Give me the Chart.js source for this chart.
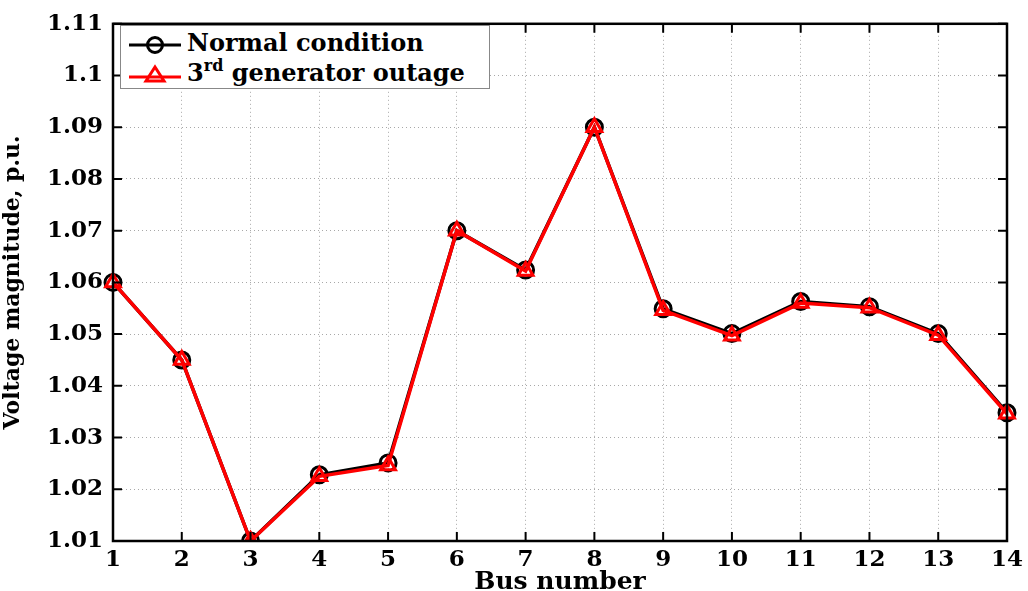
<!DOCTYPE html>
<html>
<head>
<meta charset="utf-8">
<script src="https://cdn.jsdelivr.net/npm/chart.js@4.4.1/dist/chart.umd.min.js"></script>
<style>
  body { margin: 0; background: #fff; }
  #wrap { position: relative; width: 1028px; height: 591px; }
  #legend {
    position: absolute; left: 120px; top: 25px; width: 370px; height: 64px;
    background: #fff; border: 1px solid #888; box-sizing: border-box;
    font-family: "DejaVu Serif", serif; font-weight: bold; font-size: 24px; color: #000;
  }
  #legend .row { position: absolute; left: 6px; height: 30px; line-height: 30px; white-space: nowrap; }
  #legend svg { vertical-align: middle; margin-right: 4px; }
  #legend sup { font-size: 16px; vertical-align: 10px; line-height: 0; }
</style>
</head>
<body>
<div id="wrap">
  <canvas id="chart" width="1028" height="591"></canvas>
  <div id="legend">
    <div class="row" style="top:2px">
      <svg width="56" height="24"><line x1="2" y1="12" x2="54" y2="12" stroke="#000" stroke-width="3"/><circle cx="28" cy="12" r="7.5" fill="none" stroke="#000" stroke-width="3"/></svg>Normal condition
    </div>
    <div class="row" style="top:32px">
      <svg width="56" height="24"><line x1="2" y1="14" x2="54" y2="14" stroke="#f00" stroke-width="3"/><polygon points="28,4 37,18 19,18" fill="none" stroke="#f00" stroke-width="3"/></svg>3<sup>rd</sup> generator outage
    </div>
  </div>
</div>
<script>
var buses = ['1','2','3','4','5','6','7','8','9','10','11','12','13','14'];
var normal = [1.060, 1.045, 1.010, 1.0228, 1.0251, 1.070, 1.0624, 1.090, 1.0549, 1.0501, 1.0563, 1.0553, 1.0501, 1.0348];
var outage = [1.060, 1.045, 1.010, 1.0225, 1.0246, 1.070, 1.0622, 1.090, 1.0546, 1.0497, 1.0560, 1.0551, 1.0498, 1.0346];
var yMin = 1.01, yMax = 1.11, yStep = 0.01;

var tickFont = { family: 'DejaVu Serif', weight: 'bold', size: 23 };

// frame around the plot with inward ticks, like matlab
var framePlugin = {
  id: 'frame',
  afterDraw: function(chart) {
    var ctx = chart.ctx, a = chart.chartArea;
    var xs = chart.scales.x, ys = chart.scales.y;
    ctx.save();
    ctx.strokeStyle = '#000';
    ctx.lineWidth = 2.5;
    ctx.strokeRect(a.left, a.top, a.right - a.left, a.bottom - a.top);
    ctx.lineWidth = 2;
    ctx.beginPath();
    for (var i = 0; i < buses.length; i++) {
      var px = xs.getPixelForValue(i);
      ctx.moveTo(px, a.bottom); ctx.lineTo(px, a.bottom - 9);
      ctx.moveTo(px, a.top); ctx.lineTo(px, a.top + 9);
    }
    ys.ticks.forEach(function(t) {
      var py = ys.getPixelForValue(t.value);
      ctx.moveTo(a.left, py); ctx.lineTo(a.left + 9, py);
      ctx.moveTo(a.right, py); ctx.lineTo(a.right - 9, py);
    });
    ctx.stroke();
    ctx.restore();
  }
};

new Chart(document.getElementById('chart').getContext('2d'), {
  type: 'line',
  data: {
    labels: buses,
    datasets: [{
      label: 'Normal condition',
      data: normal,
      borderColor: '#000',
      borderWidth: 3.5,
      pointStyle: 'circle',
      pointRadius: 8,
      pointBorderWidth: 3,
      pointBorderColor: '#000',
      pointBackgroundColor: 'rgba(0,0,0,0)',
      tension: 0,
      order: 1
    }, {
      label: '3rd generator outage',
      data: outage,
      borderColor: '#ff0000',
      borderWidth: 3.5,
      pointStyle: 'triangle',
      pointRadius: 8.5,
      pointBorderWidth: 3,
      pointBorderColor: '#ff0000',
      pointBackgroundColor: 'rgba(0,0,0,0)',
      tension: 0,
      order: 0
    }]
  },
  options: {
    responsive: false,
    animation: false,
    layout: { padding: { top: 19, right: 20, left: 0, bottom: 0 } },
    plugins: { legend: { display: false }, tooltip: { enabled: false } },
    scales: {
      x: {
        offset: false,
        grid: { color: '#a8a8a8', lineWidth: 1, drawTicks: false },
        border: { display: true, color: '#000', width: 2, dash: [1, 3] },
        ticks: { color: '#000', font: tickFont, padding: 5, maxRotation: 0, autoSkip: false },
        title: { display: true, text: 'Bus number', color: '#000', padding: { top: 0, bottom: -6 },
                 font: { family: 'DejaVu Serif', weight: 'bold', size: 25 } },
        afterFit: function(s) { s.height = 50; }
      },
      y: {
        min: yMin, max: yMax,
        grid: { color: '#a8a8a8', lineWidth: 1, drawTicks: false },
        border: { display: true, color: '#000', width: 2, dash: [1, 3] },
        ticks: {
          stepSize: yStep, color: '#000', font: tickFont, padding: 10,
          callback: function(v) { return String(Number(v.toFixed(2))); }
        },
        title: { display: true, text: 'Voltage magnitude, p.u.', color: '#000', padding: 0,
                 font: { family: 'DejaVu Serif', weight: 'bold', size: 22 } },
        afterFit: function(s) { s.width = 113; }
      }
    }
  },
  plugins: [framePlugin]
});
</script>
</body>
</html>
